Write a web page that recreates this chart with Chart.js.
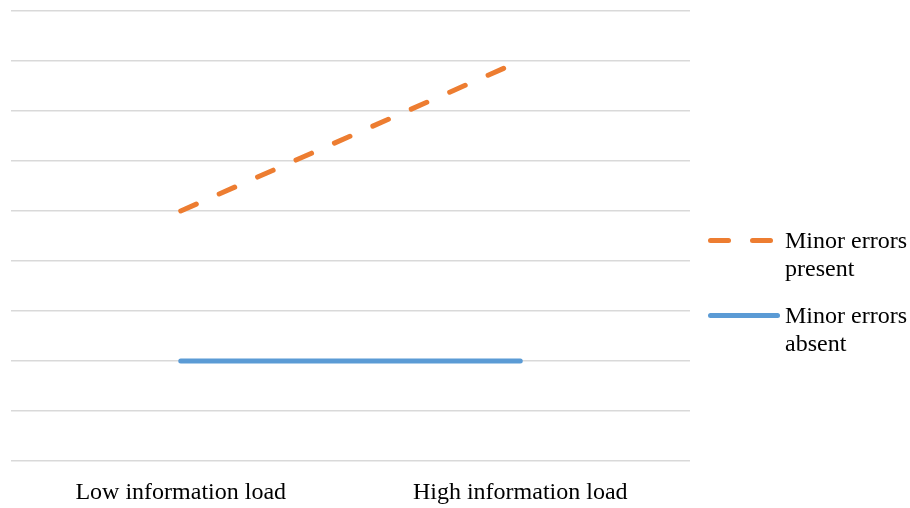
<!DOCTYPE html>
<html>
<head>
<meta charset="utf-8">
<script src="https://cdn.jsdelivr.net/npm/chart.js@4/dist/chart.umd.min.js"></script>
<style>
  html, body { margin: 0; padding: 0; background: #fff; }
  #wrap { position: relative; width: 910px; height: 508px; }
  #legend { position: absolute; left: 706px; top: 0; font-family: "Liberation Serif", "Times New Roman", serif; font-size: 24px; color: #000; }
  .item { position: absolute; left: 0; width: 204px; }
  .txt { position: absolute; left: 79px; top: 0; line-height: 28px; white-space: nowrap; }
  .sample { position: absolute; left: 2px; height: 5px; border-radius: 3px; }
</style>
</head>
<body>
<div id="wrap">
  <canvas id="c" width="910" height="508"></canvas>
  <div id="legend"></div>
</div>
<script>
const categories = ["Low information load", "High information load"];
const seriesNames = ["Minor errors present", "Minor errors absent"];
const minorErrorsPresent = [5, 8];
const minorErrorsAbsent = [2, 2];
const yTicks = [0, 1, 2, 3, 4, 5, 6, 7, 8, 9];

const ORANGE = "#ED7D31";
const BLUE = "#5B9BD5";

new Chart(document.getElementById("c"), {
  type: "line",
  data: {
    labels: categories,
    datasets: [
      { label: seriesNames[0], data: minorErrorsPresent, borderColor: ORANGE, borderWidth: 5, borderDash: [17, 25], borderCapStyle: "round", pointRadius: 0, fill: false, tension: 0 },
      { label: seriesNames[1], data: minorErrorsAbsent, borderColor: BLUE, borderWidth: 5, borderCapStyle: "round", pointRadius: 0, fill: false, tension: 0 }
    ]
  },
  options: {
    responsive: false,
    animation: false,
    events: [],
    layout: { padding: { left: 11, right: 220, top: 11, bottom: 0 } },
    plugins: { legend: { display: false }, tooltip: { enabled: false } },
    scales: {
      x: {
        offset: true,
        grid: { display: false },
        border: { display: false },
        afterFit: (s) => { s.height = 47; },
        ticks: { color: "#000", padding: 9, maxRotation: 0, font: { family: "'Liberation Serif', 'Times New Roman', serif", size: 24 } }
      },
      y: {
        min: yTicks[0],
        max: yTicks[yTicks.length - 1],
        afterBuildTicks: (s) => { s.ticks = yTicks.map(v => ({ value: v })); },
        grid: { color: "#d9d9d9", lineWidth: 1.5, drawTicks: false },
        border: { display: false },
        ticks: { display: false }
      }
    }
  }
});

// HTML legend
const legend = document.getElementById("legend");
const items = [
  { top: 226, name: seriesNames[0], color: ORANGE, dashed: true },
  { top: 301, name: seriesNames[1], color: BLUE, dashed: false }
];
items.forEach(it => {
  const d = document.createElement("div");
  d.className = "item";
  d.style.top = it.top + "px";
  if (it.dashed) {
    [0, 42].forEach(x => {
      const s = document.createElement("div");
      s.className = "sample";
      s.style.left = (2 + x) + "px";
      s.style.width = "23px";
      s.style.top = "12px";
      s.style.background = it.color;
      d.appendChild(s);
    });
  } else {
    const s = document.createElement("div");
    s.className = "sample";
    s.style.width = "72px";
    s.style.top = "12px";
    s.style.background = it.color;
    d.appendChild(s);
  }
  const t = document.createElement("div");
  t.className = "txt";
  const words = it.name.split(" ");
  t.innerHTML = words.slice(0, 2).join(" ") + "<br>" + words.slice(2).join(" ");
  d.appendChild(t);
  legend.appendChild(d);
});
</script>
</body>
</html>
